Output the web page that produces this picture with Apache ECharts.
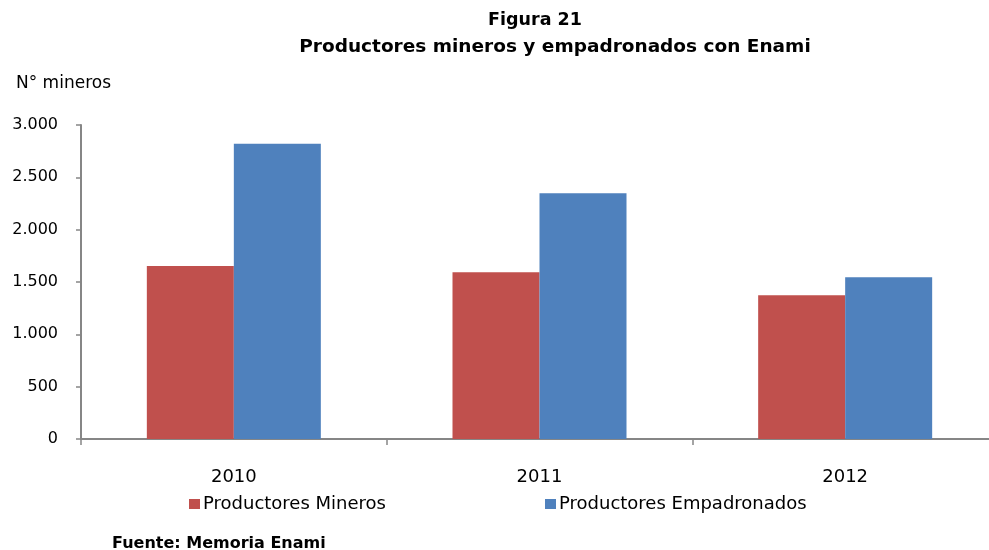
<!DOCTYPE html>
<html><head><meta charset="utf-8">
<script src="https://cdn.jsdelivr.net/npm/echarts@6/dist/echarts.min.js"></script>
<style>html,body{margin:0;padding:0;background:#fff;overflow:hidden;width:989px;height:550px}#c{width:998px;height:550px}</style>
</head><body><div id="c"></div>
<script>
var categories = ['2010', '2011', '2012'];
var mineros = [1653, 1593, 1373];
var empadronados = [2821, 2347, 1545];
var seriesNames = ['Productores Mineros', 'Productores Empadronados'];
var yTicks = [0, 500, 1000, 1500, 2000, 2500, 3000];

var FONT = 'DejaVu Sans';
function fmt(v){ return String(v).replace(/\B(?=(\d{3})+(?!\d))/g, '.'); }

var chart = echarts.init(document.getElementById('c'), null, {renderer:'canvas'});
chart.setOption({
  animation: false,
  backgroundColor: '#fff',
  title: [
    {text: 'Figura 21', left: 530, top: 6, textAlign: 'center',
     textStyle:{fontFamily:FONT, fontWeight:'bold', fontSize:17.5, color:'#000'}},
    {text: 'Productores mineros y empadronados con Enami', left: 550, top: 33, textAlign: 'center',
     textStyle:{fontFamily:FONT, fontWeight:'bold', fontSize:18.5, color:'#000'}},
    {text: 'N° mineros', left: 11, top: 70,
     textStyle:{fontFamily:FONT, fontWeight:'normal', fontSize:17, color:'#000'}},
    {text: 'Fuente: Memoria Enami', left: 107, top: 531,
     textStyle:{fontFamily:FONT, fontWeight:'bold', fontSize:16, color:'#000'}}
  ],
  legend: [
    {data:[seriesNames[0]], left: 184, top: 490, icon:'rect', itemWidth:11, itemHeight:10, itemGap:0,
     textStyle:{fontFamily:FONT, fontSize:18, color:'#000', padding:[0,0,0,-2]}},
    {data:[seriesNames[1]], left: 540, top: 490, icon:'rect', itemWidth:11, itemHeight:10, itemGap:0,
     textStyle:{fontFamily:FONT, fontSize:18, color:'#000', padding:[0,0,0,-2]}}
  ],
  grid: {left: 81, right: 0, top: 125, bottom: 111, containLabel: false},
  xAxis: {
    type: 'category', data: categories,
    axisLine: {lineStyle:{color:'#868686', width:2}},
    axisTick: {show:true, length:6, lineStyle:{color:'#868686', width:1.5}},
    axisLabel: {fontFamily:FONT, fontSize:18, color:'#000', margin:29}
  },
  yAxis: {
    type: 'value', min: yTicks[0], max: yTicks[yTicks.length-1], interval: 500,
    axisLine: {show:true, lineStyle:{color:'#868686', width:2}},
    axisTick: {show:true, length:5, lineStyle:{color:'#868686', width:1.5}},
    splitLine: {show:false},
    axisLabel: {fontFamily:FONT, fontSize:16, color:'#000', margin:23, formatter: fmt}
  },
  series: [
    {name: seriesNames[0], type:'bar', data: mineros, barWidth: 87, barGap: '0%',
     itemStyle:{color:'#C0504D'}},
    {name: seriesNames[1], type:'bar', data: empadronados, barWidth: 87, barGap: '0%',
     itemStyle:{color:'#4F81BD'}}
  ]
});
</script></body></html>
